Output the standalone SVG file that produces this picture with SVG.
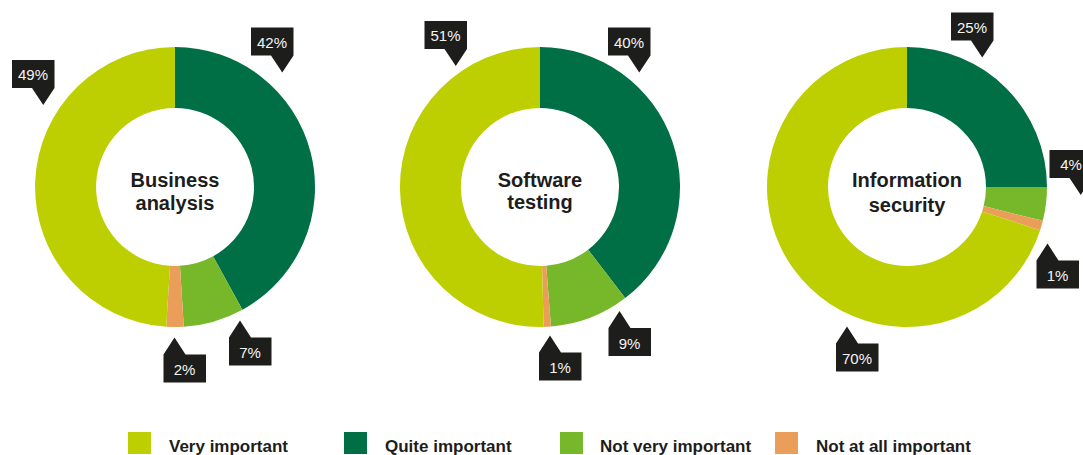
<svg xmlns="http://www.w3.org/2000/svg" xmlns:xlink="http://www.w3.org/1999/xlink" width="1083" height="455" viewBox="0 0 1083 455">
<style>
.vi{fill:#BDCF00}
.qi{fill:#006F45}
.nv{fill:#76B82A}
.na{fill:#EB9E5A}
.box{fill:#1D1D1B}
.ct{font-family:"Liberation Sans",Arial,sans-serif;font-size:15px;fill:#F4F4F4;text-anchor:middle}
.lbl{font-family:"Liberation Sans",Arial,sans-serif;font-size:20px;font-weight:bold;fill:#1D1D1B;text-anchor:middle}
.leg{font-family:"Liberation Sans",Arial,sans-serif;font-size:17px;font-weight:bold;fill:#1D1D1B}
</style>
<defs>
<path id="cDown" d="M0,0 h42.5 v28 l-11.25,17 l-11.25,-17 h-20 z"/>
<path id="cUp" d="M0,0 l11,-17 l11,17 h20.5 v28 h-42.5 z"/>
</defs>
<rect width="1083" height="455" fill="#FFFFFF"/>

<g id="chart-business-analysis">
<path class="qi" d="M175,47 A140,140 0 0 1 242.45,309.68 L213.06,256.23 A79,79 0 0 0 175,108 Z"/>
<path class="nv" d="M242.45,309.68 A140,140 0 0 1 183.79,326.72 L179.96,265.84 A79,79 0 0 0 213.06,256.23 Z"/>
<path class="na" d="M183.79,326.72 A140,140 0 0 1 166.21,326.72 L170.04,265.84 A79,79 0 0 0 179.96,265.84 Z"/>
<path class="vi" d="M166.21,326.72 A140,140 0 0 1 175,47 L175,108 A79,79 0 0 0 170.04,265.84 Z"/>
<text class="lbl" x="175" y="187">Business</text>
<text class="lbl" x="175" y="210">analysis</text>
<use href="#cDown" class="box" x="12" y="60"/><text class="ct" x="33" y="80">49%</text>
<use href="#cDown" class="box" x="251" y="27.5"/><text class="ct" x="272" y="47.5">42%</text>
<use href="#cUp" class="box" x="229" y="337.5"/><text class="ct" x="250" y="358">7%</text>
<use href="#cUp" class="box" x="163.5" y="354.5"/><text class="ct" x="184.5" y="375">2%</text>
</g>

<g id="chart-software-testing">
<path class="qi" d="M540,47 A140,140 0 0 1 625.23,298.08 L588.10,249.68 A79,79 0 0 0 540,108 Z"/>
<path class="nv" d="M625.23,298.08 A140,140 0 0 1 550.98,326.57 L546.20,265.76 A79,79 0 0 0 588.10,249.68 Z"/>
<path class="na" d="M550.98,326.57 A140,140 0 0 1 543.67,326.95 L542.07,265.97 A79,79 0 0 0 546.20,265.76 Z"/>
<path class="vi" d="M543.67,326.95 A140,140 0 1 1 540,47 L540,108 A79,79 0 1 0 542.07,265.97 Z"/>
<text class="lbl" x="540" y="187">Software</text>
<text class="lbl" x="540" y="209">testing</text>
<use href="#cDown" class="box" x="424.5" y="21"/><text class="ct" x="445.5" y="41">51%</text>
<use href="#cDown" class="box" x="608" y="27.5"/><text class="ct" x="629" y="47.5">40%</text>
<use href="#cUp" class="box" x="608.5" y="328"/><text class="ct" x="629.5" y="348.5">9%</text>
<use href="#cUp" class="box" x="539" y="352.5"/><text class="ct" x="560" y="373">1%</text>
</g>

<g id="chart-information-security">
<path class="qi" d="M907,47 A140,140 0 0 1 1047,187 L986,187 A79,79 0 0 0 907,108 Z"/>
<path class="nv" d="M1047,187 A140,140 0 0 1 1042.84,220.87 L983.65,206.11 A79,79 0 0 0 986,187 Z"/>
<path class="na" d="M1042.84,220.87 A140,140 0 0 1 1040.15,230.26 L982.14,211.41 A79,79 0 0 0 983.65,206.11 Z"/>
<path class="vi" d="M1040.15,230.26 A140,140 0 1 1 907,47 L907,108 A79,79 0 1 0 982.14,211.41 Z"/>
<text class="lbl" x="907" y="187">Information</text>
<text class="lbl" x="907" y="212">security</text>
<use href="#cDown" class="box" x="951" y="12.5"/><text class="ct" x="972" y="32.5">25%</text>
<use href="#cDown" class="box" x="1049.5" y="150"/><text class="ct" x="1071" y="170">4%</text>
<use href="#cUp" class="box" x="1036.5" y="260.5"/><text class="ct" x="1057.5" y="281">1%</text>
<use href="#cUp" class="box" x="836" y="343.5"/><text class="ct" x="857" y="364">70%</text>
</g>

<g id="legend">
<rect class="vi" x="128" y="432" width="23" height="22"/>
<text class="leg" x="169" y="451.5">Very important</text>
<rect class="qi" x="344" y="432" width="23" height="22"/>
<text class="leg" x="385" y="451.5">Quite important</text>
<rect class="nv" x="560" y="432" width="23" height="22"/>
<text class="leg" x="600" y="451.5">Not very important</text>
<rect class="na" x="775" y="432" width="23" height="22"/>
<text class="leg" x="816" y="451.5">Not at all important</text>
</g>
<g id="connectors"/>
</svg>
